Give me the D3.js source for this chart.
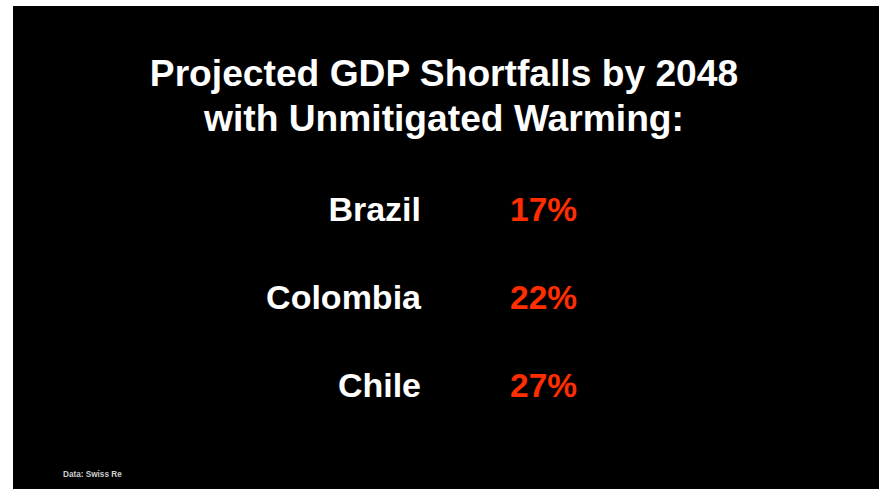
<!DOCTYPE html>
<html>
<head>
<meta charset="utf-8">
<script src="https://cdn.jsdelivr.net/npm/d3@7"></script>
<style>
  html, body { margin: 0; padding: 0; background: #ffffff; }
  svg { display: block; }
  text { font-family: "Liberation Sans", Arial, Helvetica, sans-serif; }
</style>
</head>
<body>
<div id="chart"></div>
<script>
// Projected GDP shortfall by 2048 under unmitigated warming (% of GDP)
const countries = ["Brazil", "Colombia", "Chile"];
const shortfalls = [17, 22, 27];
const titleLines = ["Projected GDP Shortfalls by 2048", "with Unmitigated Warming:"];
const sourceNote = "Data: Swiss Re";

const W = 884, H = 489;
const panel = { x: 13, y: 6, w: 866, h: 483 };

const svg = d3.select("#chart").append("svg")
  .attr("width", W).attr("height", H);

// black slide panel
svg.append("rect")
  .attr("x", panel.x).attr("y", panel.y)
  .attr("width", panel.w).attr("height", panel.h)
  .attr("fill", "#000000");

// title
svg.append("g").selectAll("text")
  .data(titleLines)
  .join("text")
  .attr("x", 444)
  .attr("y", (d, i) => 85.5 + i * 45)
  .attr("text-anchor", "middle")
  .attr("fill", "#ffffff")
  .attr("font-weight", "bold")
  .attr("font-size", 37.2)
  .text(d => d);

// one row per country
const y = d3.scalePoint()
  .domain(countries)
  .range([221, 397]);

const rows = svg.append("g").selectAll("g")
  .data(countries.map((c, i) => ({ country: c, value: shortfalls[i] })))
  .join("g")
  .attr("transform", d => `translate(0,${y(d.country)})`);

rows.append("text")
  .attr("x", 421)
  .attr("text-anchor", "end")
  .attr("fill", "#ffffff")
  .attr("font-weight", "bold")
  .attr("font-size", 34)
  .text(d => d.country);

rows.append("text")
  .attr("x", 510)
  .attr("text-anchor", "start")
  .attr("fill", "#ff2d00")
  .attr("font-weight", "bold")
  .attr("font-size", 33.5)
  .text(d => d3.format("d")(d.value) + "%");

// source note
svg.append("text")
  .attr("x", 63)
  .attr("y", 477)
  .attr("fill", "#d0d0d0")
  .attr("font-weight", "bold")
  .attr("font-size", 8.2)
  .text(sourceNote);
</script>
</body>
</html>
